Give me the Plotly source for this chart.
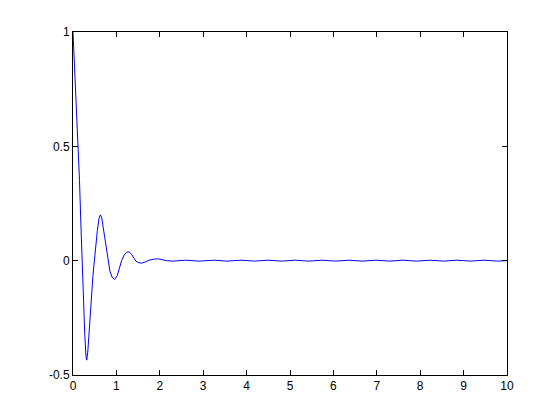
import plotly.graph_objects as go

# Readings from the reference curve (t, response)
t_main = [0.0, 0.03, 0.06, 0.09, 0.12, 0.15, 0.18, 0.21, 0.24, 0.27, 0.30, 0.316,
          0.34, 0.37, 0.40, 0.43, 0.46, 0.49, 0.52, 0.56, 0.60, 0.63, 0.66, 0.70,
          0.75, 0.80, 0.85, 0.90, 0.96, 1.02, 1.07, 1.12, 1.18, 1.24, 1.29, 1.35,
          1.40, 1.45, 1.50, 1.58, 1.66, 1.75, 1.85, 1.95, 2.05, 2.15]
y_main = [1.0, 0.88, 0.75, 0.62, 0.49, 0.35, 0.17, -0.01, -0.18, -0.32, -0.42, -0.435,
          -0.40, -0.31, -0.21, -0.13, -0.065, -0.005, 0.06, 0.13, 0.185, 0.20, 0.19, 0.14,
          0.07, 0.005, -0.045, -0.072, -0.082, -0.065, -0.033, 0.0, 0.025, 0.037, 0.039, 0.028,
          0.012, -0.002, -0.008, -0.011, -0.006, 0.002, 0.006, 0.008, 0.005, 0.0]
t_tail = [2.3, 2.6, 2.9, 3.25, 3.55, 3.87, 4.18, 4.5, 4.8, 5.12, 5.43, 5.74, 6.05,
          6.36, 6.67, 6.98, 7.3, 7.6, 7.92, 8.23, 8.54, 8.85, 9.16, 9.47, 9.78, 10.0]
y_tail = [-0.002, 0.002, -0.002, 0.002, -0.002, 0.002, -0.002, 0.002, -0.002, 0.002,
          -0.002, 0.002, -0.002, 0.002, -0.002, 0.002, -0.002, 0.002, -0.002, 0.002,
          -0.002, 0.002, -0.002, 0.002, -0.002, 0.0]

x_ticks = [0, 1, 2, 3, 4, 5, 6, 7, 8, 9, 10]
y_ticks = [-0.5, 0, 0.5, 1]
y_tick_labels = ["-0.5", "0", "0.5", "1"]

fig = go.Figure(go.Scatter(x=t_main + t_tail, y=y_main + y_tail, mode="lines",
                           line=dict(color="#0000ff", width=1), hoverinfo="skip"))

axis_common = dict(showgrid=False, zeroline=False, showline=True, linecolor="black",
                   linewidth=1, mirror="ticks", ticks="inside", ticklen=5,
                   tickcolor="black", tickwidth=1,
                   tickfont=dict(family="Liberation Sans, Arial, sans-serif", size=12, color="black"))

fig.update_layout(
    width=560, height=420,
    margin=dict(l=65, r=61, t=24, b=53),
    paper_bgcolor="white", plot_bgcolor="white",
    showlegend=False,
    xaxis=dict(range=[0, 10], tickvals=x_ticks, ticktext=[str(v) for v in x_ticks], **axis_common),
    yaxis=dict(range=[-0.5, 1], tickvals=y_ticks, ticktext=y_tick_labels, **axis_common),
)

fig.write_html("out.html")
